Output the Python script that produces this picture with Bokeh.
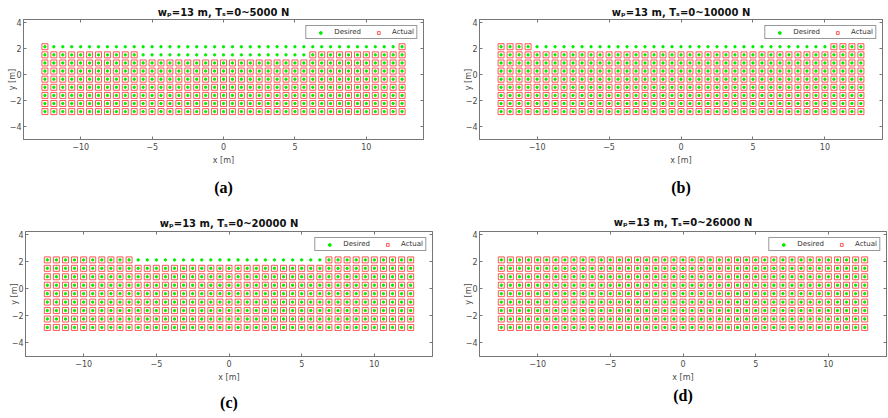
from bokeh.plotting import figure
from bokeh.layouts import column, row
from bokeh.models import (Title, Legend, LegendItem, Range1d, LinearAxis,
                          FixedTicker)
from bokeh.embed import file_html
from bokeh.resources import INLINE

# ---- data ----
x_grid = [-12.5, -11.875, -11.25, -10.625, -10.0, -9.375, -8.75, -8.125,
          -7.5, -6.875, -6.25, -5.625, -5.0, -4.375, -3.75, -3.125, -2.5,
          -1.875, -1.25, -0.625, 0.0, 0.625, 1.25, 1.875, 2.5, 3.125, 3.75,
          4.375, 5.0, 5.625, 6.25, 6.875, 7.5, 8.125, 8.75, 9.375, 10.0,
          10.625, 11.25, 11.875, 12.5]
y_grid = [-2.85, -2.225, -1.6, -0.975, -0.35, 0.275, 0.9, 1.525, 2.15]

titles = ["w\u209a=13 m, T\u209b=0~5000 N",
          "w\u209a=13 m, T\u209b=0~10000 N",
          "w\u209a=13 m, T\u209b=0~20000 N",
          "w\u209a=13 m, T\u209b=0~26000 N"]
panel_labels = ["(a)", "(b)", "(c)", "(d)"]

# columns (index ranges, inclusive) in a row where no "Actual" marker appears
missing_a = {2.15: (1, 39), 1.525: (11, 29)}
missing_b = {2.15: (4, 36)}
missing_c = {2.15: (10, 30)}
missing_d = {}

x_ticks = [-10, -5, 0, 5, 10]
y_ticks = [-4, -2, 0, 2, 4]

AX = "#767676"
TXT = "#4a4a4a"


def make_panel(title, label, missing, height, left, right, top, bottom,
               title_standoff, label_standoff):
    dx, dy, ax_, ay_ = [], [], [], []
    for yv in y_grid:
        lo, hi = missing.get(yv, (99, -1))
        for i, xv in enumerate(x_grid):
            dx.append(xv)
            dy.append(yv)
            if not (lo <= i <= hi):
                ax_.append(xv)
                ay_.append(yv)
    p = figure(width=444, height=height, x_range=Range1d(-14, 14),
               y_range=Range1d(-5, 4.25), output_backend="svg",
               toolbar_location=None, min_border_left=left,
               min_border_right=right, min_border_top=top,
               min_border_bottom=bottom)
    p.grid.visible = False
    p.outline_line_color = AX
    p.background_fill_color = "white"
    p.border_fill_color = "white"

    p.title.text = title
    p.title.align = "center"
    p.title.text_font = "DejaVu Sans"
    p.title.text_font_size = "10px"
    p.title.text_font_style = "bold"
    p.title.text_color = "#111111"
    p.title.standoff = title_standoff

    for axis in (p.xaxis[0], p.yaxis[0]):
        axis.major_tick_in = 3
        axis.major_tick_out = 0
        axis.minor_tick_in = 0
        axis.minor_tick_out = 0
        axis.axis_line_color = AX
        axis.major_tick_line_color = AX
        axis.major_label_text_font = "DejaVu Sans"
        axis.major_label_text_font_size = "8px"
        axis.major_label_text_color = TXT
        axis.axis_label_text_font = "DejaVu Sans"
        axis.axis_label_text_font_size = "8px"
        axis.axis_label_text_font_style = "normal"
        axis.axis_label_text_color = TXT
    p.xaxis.major_label_standoff = 3
    p.xaxis.axis_label_standoff = 3
    p.yaxis.major_label_standoff = 2
    p.yaxis.axis_label_standoff = -10
    p.xaxis.ticker = FixedTicker(ticks=x_ticks)
    p.yaxis.ticker = FixedTicker(ticks=y_ticks)
    p.xaxis.axis_label = "x [m]"
    p.yaxis.axis_label = "y [m]"

    # inward ticks on the top and right sides of the box (no labels)
    for place, ticks in (("right", y_ticks), ("above", x_ticks)):
        a = LinearAxis(ticker=FixedTicker(ticks=ticks), major_tick_in=3,
                       major_tick_out=0, minor_tick_in=0, minor_tick_out=0,
                       major_label_text_font_size="1px",
                       major_label_text_color=None,
                       major_label_standoff=0, axis_line_color=AX,
                       major_tick_line_color=AX)
        p.add_layout(a, place)

    act = p.scatter(x=ax_, y=ay_, marker="square", size=6,
                    fill_color=None, line_color="#ff3b3b", line_alpha=0.85,
                    line_width=1)
    des = p.scatter(x=dx, y=dy, marker="circle", size=2.4,
                    fill_color="#00ee00", line_color="#00ee00")

    leg = Legend(items=[LegendItem(label="Desired", renderers=[des]),
                        LegendItem(label="Actual", renderers=[act])],
                 location="top_right", orientation="horizontal")
    leg.label_text_font = "DejaVu Sans"
    leg.label_text_font_size = "7px"
    leg.label_text_color = "#333333"
    leg.label_height = 7
    leg.glyph_height = 7
    leg.glyph_width = 24
    leg.label_standoff = 2
    leg.spacing = 5
    leg.padding = 2
    leg.margin = 6
    leg.border_line_color = "#333333"
    leg.border_line_width = 1
    p.add_layout(leg, "center")

    t = Title(text=label, align="center", text_font="Liberation Serif",
              text_font_style="bold", text_font_size="16px",
              text_color="#000000", standoff=label_standoff)
    p.add_layout(t, "below")
    return p


pa = make_panel(titles[0], panel_labels[0], missing_a, 205, 23, 21, 19, 53, 4, 19)
pb = make_panel(titles[1], panel_labels[1], missing_b, 205, 35, 6, 19, 53, 4, 19)
pc = make_panel(titles[2], panel_labels[2], missing_c, 213, 25, 12, 23, 55, 5, 15)
pd = make_panel(titles[3], panel_labels[3], missing_d, 213, 35, 2, 26, 50, 8, 0)

layout = column(row(pa, pb), row(pc, pd))
open("out.html", "w").write(file_html(layout, INLINE))
